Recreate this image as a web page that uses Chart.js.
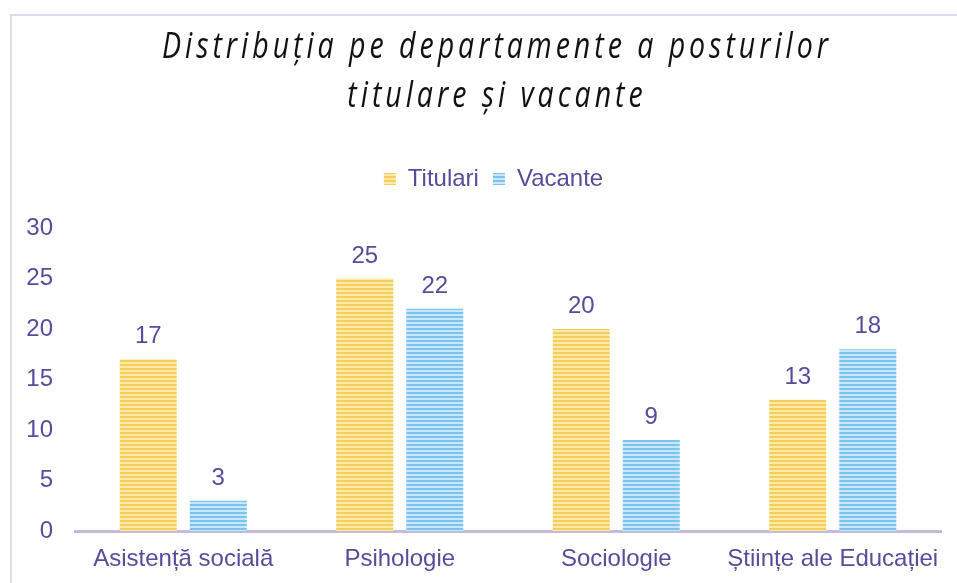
<!DOCTYPE html>
<html>
<head>
<meta charset="utf-8">
<script src="https://cdn.jsdelivr.net/npm/chart.js@4"></script>
<style>
  body { margin: 0; background: #fff; overflow: hidden; }
  .frame { position: absolute; left: 10px; top: 14px; width: 980px; height: 620px; border: 2px solid #dedbf0; }
  .wrap { position: absolute; left: 0; top: 0; width: 957px; height: 583px; }
</style>
</head>
<body>
<div class="frame"></div>
<div class="wrap"><canvas id="chart_posturi" width="957" height="583"></canvas></div>
<script>
// Date
const titleLines = ['Distribuția pe departamente a posturilor', 'titulare și vacante']
const departments = ['Asistență socială', 'Psihologie', 'Sociologie', 'Științe ale Educației']
const titulari = [17, 25, 20, 13]
const vacante = [3, 22, 9, 18]

const purple = '#574c9c'
const font = '"Liberation Sans", Arial, sans-serif'

// dungi orizontale pe bare
const stripes = (dark, light) => {
    const c = document.createElement('canvas')
    c.width = 8
    c.height = 4
    const x = c.getContext('2d')
    x.fillStyle = light
    x.fillRect(0, 0, 8, 4)
    x.fillStyle = dark
    x.fillRect(0, 0, 8, 2)
    return x.createPattern(c, 'repeat')
}

const yellow = stripes('#f4cf60', '#fbe9a8')
const blue = stripes('#7cc4f0', '#c9e7fa')

// titlu cu litere rare, ingustat
const spacedTitle = {
    id: 'spacedTitle',
    afterDraw(chart) {
        const ctx = chart.ctx
        const ls = 5
        ctx.save()
        ctx.font = 'italic 36px "Open Sans", "DejaVu Sans", sans-serif'
        ctx.letterSpacing = ls + 'px'
        ctx.fillStyle = '#111'
        ctx.textAlign = 'left'
        ctx.textBaseline = 'alphabetic'
        const sx = 666 / (ctx.measureText(titleLines[0]).width - ls)
        const rows = [[titleLines[0], 58], [titleLines[1], 107]]
        rows.forEach(([t, y]) => {
            const w = (ctx.measureText(t).width - ls) * sx
            ctx.save()
            ctx.translate(495 - w / 2, y)
            ctx.scale(sx, 1)
            ctx.fillText(t, 0, 0)
            ctx.restore()
        })
        ctx.restore()
    }
}

// valori deasupra barelor
const barValues = {
    id: 'barValues',
    afterDatasetsDraw(chart) {
        const ctx = chart.ctx
        ctx.save()
        ctx.font = '24px ' + font
        ctx.fillStyle = purple
        ctx.textAlign = 'center'
        ctx.textBaseline = 'alphabetic'
        chart.data.datasets.forEach((ds, i) => {
            chart.getDatasetMeta(i).data.forEach((bar, j) => {
                ctx.fillText(ds.data[j], bar.x, bar.y - 16)
            })
        })
        ctx.restore()
    }
}

// spatiu sub legenda si legenda putin la dreapta
const legendGap = {
    id: 'legendGap',
    beforeInit(chart) {
        const fit = chart.legend.fit
        chart.legend.fit = function () {
            fit.bind(chart.legend)()
            this.height += 27
        }
    },
    afterLayout(chart) {
        chart.legend.left += 23
        chart.legend.right += 23
    }
}

new Chart(document.getElementById('chart_posturi'), {
    type: 'bar',
    data: {
        labels: departments,
        datasets: [
            { label: 'Titulari', data: titulari, backgroundColor: yellow, categoryPercentage: 0.647, barPercentage: 0.814 },
            { label: 'Vacante', data: vacante, backgroundColor: blue, categoryPercentage: 0.647, barPercentage: 0.814 }
        ]
    },
    options: {
        responsive: false,
        animation: false,
        layout: {
            padding: { top: 153, right: 16, left: 0, bottom: 0 }
        },
        plugins: {
            title: { display: false },
            tooltip: { enabled: false },
            legend: {
                position: 'top',
                labels: {
                    font: { family: font, size: 24 },
                    color: purple,
                    boxWidth: 12,
                    boxHeight: 12,
                    padding: 14
                }
            }
        },
        scales: {
            x: {
                grid: { display: false, drawTicks: false },
                border: { display: true, color: '#c4bbdf', width: 3 },
                ticks: {
                    font: { family: font, size: 24 },
                    color: purple,
                    padding: 14,
                    maxRotation: 0,
                    minRotation: 0,
                    autoSkip: false
                },
                afterFit(scale) {
                    scale.height = 52
                    scale.paddingLeft = 0
                    scale.paddingRight = 0
                }
            },
            y: {
                min: 0,
                max: 30,
                ticks: {
                    stepSize: 5,
                    font: { family: font, size: 24 },
                    color: purple,
                    padding: 22
                },
                grid: { display: false, drawTicks: false },
                border: { display: false },
                afterFit(scale) { scale.width = 75 }
            }
        }
    },
    plugins: [spacedTitle, barValues, legendGap]
});
</script>
</body>
</html>
